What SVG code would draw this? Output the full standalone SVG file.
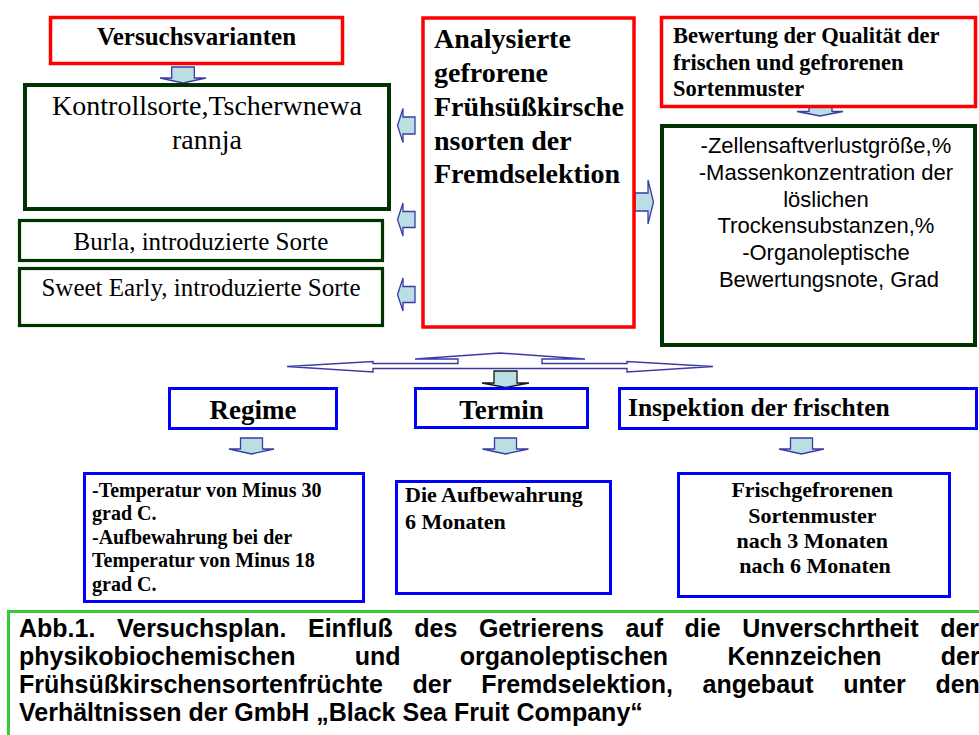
<svg xmlns="http://www.w3.org/2000/svg" width="979" height="735" viewBox="0 0 979 735">
<style>
.red{fill:#fff;stroke:#ff0000;stroke-width:3.5}
.grn{fill:#fff;stroke:#003300;stroke-width:4}
.grn3{fill:#fff;stroke:#003300;stroke-width:3.2}
.blu{fill:#fff;stroke:#0000ff;stroke-width:3}
.cap{fill:#fff;stroke:#33cc33;stroke-width:3}
.arr{fill:#b9dfe3;stroke:#3b3ba5;stroke-width:1.3}
.arrk{fill:#b9dfe3;stroke:#1a1a1a;stroke-width:1.3}
.tri{fill:#fff;stroke:#3b3ba5;stroke-width:1.4}
.tr{font-family:"Liberation Serif","Times New Roman",serif;fill:#000}
.tb{font-family:"Liberation Serif","Times New Roman",serif;font-weight:bold;fill:#000}
.ar{font-family:"Liberation Sans",Arial,sans-serif;fill:#000}
.ab{font-family:"Liberation Sans",Arial,sans-serif;font-weight:bold;fill:#000}
</style>
<rect width="979" height="735" fill="#fff"/>

<g id="connectors">
  <polygon class="arr" points="171.7,67 194.3,67 194.3,78 206,78 183,83 160,78 171.7,78"/>
  <polygon class="arr" points="415,117 403,117 403,108.5 397.5,125.5 403,142.5 403,134 415,134"/>
  <polygon class="arr" points="415,211.5 403,211.5 403,203 397.5,219.5 403,236 403,227.5 415,227.5"/>
  <polygon class="arr" points="415,286.5 403,286.5 403,278 397.5,294.5 403,311 403,302.5 415,302.5"/>
  <polygon class="arr" points="635,193 648,193 648,180 653.5,202 648,224 648,211 635,211"/>
  <polygon class="arr" points="809,101 832,101 832,111.5 843,111.5 820,116 797,111.5 809,111.5"/>
  <polygon class="tri" points="287,366.5 373,361.5 373,363.5 458,363.5 458,359 415,359 500,353 585,359 542,359 542,363.5 627,363.5 627,361.5 713,366.5 627,372 627,368.5 373,368.5 373,372"/>
  <polygon class="arrk" points="494,371 517,371 517,383 529,383 505.5,387.5 482,383 494,383"/>
  <polygon class="arr" points="240.5,438 262.5,438 262.5,449 274,449 251.5,454 229,449 240.5,449"/>
  <polygon class="arr" points="494.5,438 516.5,438 516.5,449 528.5,449 505.5,454 482.5,449 494.5,449"/>
  <polygon class="arr" points="790.5,438 812.5,438 812.5,449 824,449 801.5,454 779,449 790.5,449"/>
</g>

<g id="versuchsvarianten">
  <rect class="red" x="50.5" y="17.5" width="292" height="46"/>
  <text class="tb" x="196.5" y="45" font-size="25" text-anchor="middle">Versuchsvarianten</text>
</g>

<g id="kontrollsorte">
  <rect class="grn" x="25" y="85" width="364" height="124"/>
  <text class="tr" x="207" y="115" font-size="28" text-anchor="middle">Kontrollsorte,Tscherwnewa</text>
  <text class="tr" x="207" y="149" font-size="28" text-anchor="middle">rannja</text>
</g>

<g id="burla">
  <rect class="grn3" x="19.5" y="220.5" width="363" height="40"/>
  <text class="tr" x="201" y="250" font-size="25" text-anchor="middle">Burla, introduzierte Sorte</text>
</g>

<g id="sweet-early">
  <rect class="grn3" x="19.5" y="268.5" width="363" height="57"/>
  <text class="tr" x="201" y="296" font-size="25" text-anchor="middle">Sweet Early, introduzierte Sorte</text>
</g>

<g id="analysierte">
  <rect class="red" x="423" y="18" width="211" height="309"/>
  <text class="tb" font-size="28">
    <tspan x="434" y="48">Analysierte</tspan>
    <tspan x="434" y="82">gefrorene</tspan>
    <tspan x="434" y="116">Frühsüßkirsche</tspan>
    <tspan x="434" y="150">nsorten der</tspan>
    <tspan x="434" y="183">Fremdselektion</tspan>
  </text>
</g>

<g id="bewertung">
  <rect class="red" x="661.5" y="17.5" width="314" height="89"/>
  <text class="tb" font-size="22.5">
    <tspan x="673" y="43">Bewertung der Qualität der</tspan>
    <tspan x="673" y="69.5">frischen und gefrorenen</tspan>
    <tspan x="673" y="96">Sortenmuster</tspan>
  </text>
</g>

<g id="kennzeichen">
  <rect class="grn" x="662" y="126" width="313" height="219"/>
  <text class="ar" font-size="22" text-anchor="middle">
    <tspan x="829" y="153">-Zellensaftverlustgröße,%</tspan>
    <tspan x="829" y="180">-Massenkonzentration der</tspan>
    <tspan x="829" y="207">löslichen</tspan>
    <tspan x="829" y="233">Trockensubstanzen,%</tspan>
    <tspan x="829" y="260">-Organoleptische</tspan>
    <tspan x="829" y="287">Bewertungsnote, Grad</tspan>
  </text>
</g>

<g id="regime">
  <rect class="blu" x="169.5" y="388.5" width="167" height="40"/>
  <text class="tb" x="253" y="419" font-size="27" text-anchor="middle">Regime</text>
</g>

<g id="termin">
  <rect class="blu" x="415.5" y="388.5" width="172" height="39"/>
  <text class="tb" x="501.5" y="419" font-size="27" text-anchor="middle">Termin</text>
</g>

<g id="inspektion">
  <rect class="blu" x="619.5" y="388.5" width="357" height="40"/>
  <text class="tb" x="628" y="416" font-size="25.5">Inspektion der frischten</text>
</g>

<g id="temperatur">
  <rect class="blu" x="84.5" y="473.5" width="279" height="128"/>
  <text class="tb" font-size="20">
    <tspan x="92" y="496.5">-Temperatur von Minus 30</tspan>
    <tspan x="92" y="520">grad C.</tspan>
    <tspan x="92" y="543.5">-Aufbewahrung bei der</tspan>
    <tspan x="92" y="567">Temperatur von Minus 18</tspan>
    <tspan x="92" y="590.5">grad C.</tspan>
  </text>
</g>

<g id="aufbewahrung">
  <rect class="blu" x="396.5" y="481.5" width="214" height="112"/>
  <text class="tb" font-size="22">
    <tspan x="405" y="502">Die Aufbewahrung</tspan>
    <tspan x="405" y="529">6 Monaten</tspan>
  </text>
</g>

<g id="sortenmuster">
  <rect class="blu" x="678.5" y="473.5" width="271" height="123"/>
  <text class="tb" font-size="22" text-anchor="middle">
    <tspan x="815" y="497">Frischgefrorenen</tspan>
    <tspan x="815" y="522.5">Sortenmuster</tspan>
    <tspan x="815" y="548">nach 3 Monaten</tspan>
    <tspan x="815" y="573">nach 6 Monaten</tspan>
  </text>
</g>

<g id="caption">
  <rect class="cap" x="8.5" y="611.5" width="990" height="140"/>
  <text class="ab" font-size="25" x="19" y="637" style="word-spacing:14.6px">Abb.1. Versuchsplan. Einfluß des Getrierens auf die Unverschrtheit der</text>
  <text class="ab" font-size="25" x="19" y="665" style="word-spacing:52.3px">physikobiochemischen und organoleptischen Kennzeichen der</text>
  <text class="ab" font-size="25" x="19" y="693" style="word-spacing:22.7px">Frühsüßkirschensortenfrüchte der Fremdselektion, angebaut unter den</text>
  <text class="ab" font-size="25" x="19" y="721">Verhältnissen der GmbH „Black Sea Fruit Company“</text>
</g>
</svg>
